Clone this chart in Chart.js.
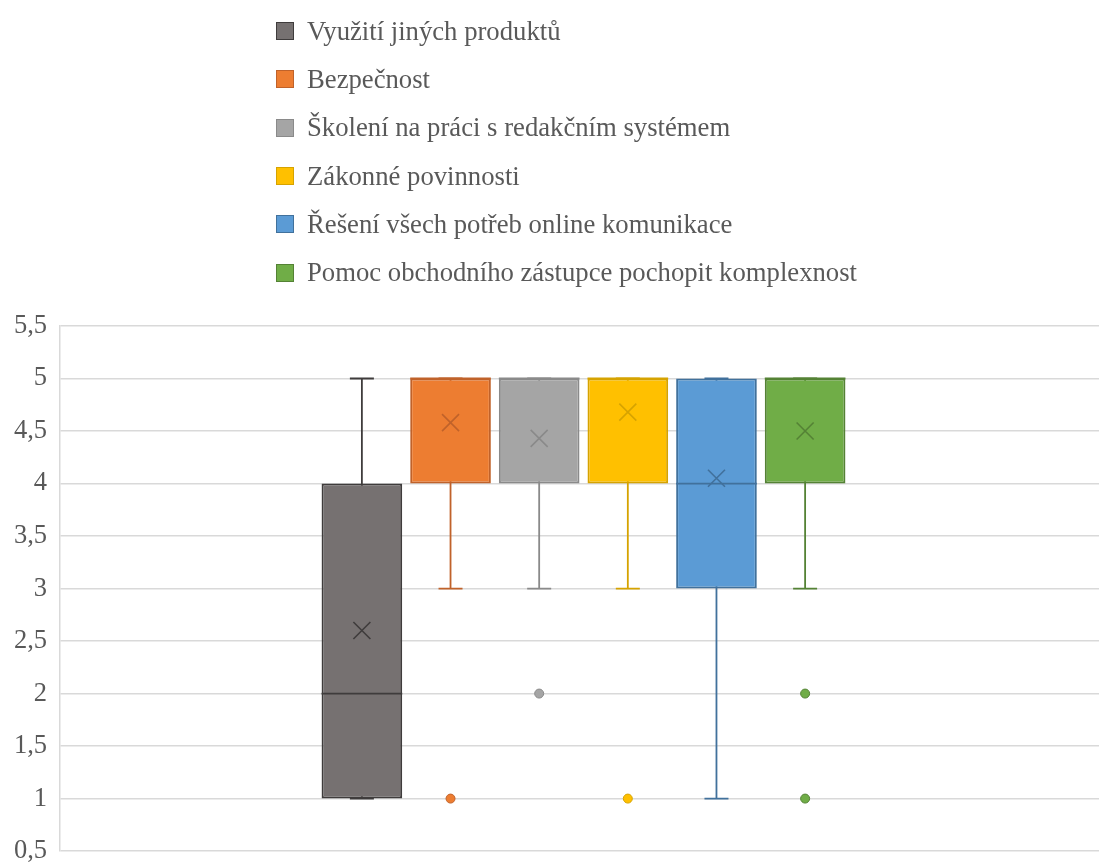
<!DOCTYPE html>
<html lang="cs">
<head>
<meta charset="utf-8">
<title>Box plot</title>
<script src="https://cdn.jsdelivr.net/npm/chart.js@4/dist/chart.umd.min.js"></script>
<style>
  html, body { margin: 0; padding: 0; background: #fff; overflow: hidden; width: 1099px; height: 862px; }
  #wrap { position: relative; width: 1107px; height: 880px; }
  #chart { position: absolute; left: 0; top: 0; }
  #legend { position: absolute; left: 276px; top: 7px; font-family: "Liberation Serif", "Times New Roman", serif; font-size: 26.7px; color: #595959; }
  .item { height: 48.3px; display: flex; align-items: center; white-space: nowrap; }
  .swatch { width: 16px; height: 16px; border: 1px solid; margin-right: 13px; box-sizing: content-box; }
</style>
</head>
<body>
<div id="wrap">
  <canvas id="chart" width="1107" height="880"></canvas>
  <div id="legend"></div>
</div>
<script>
// Series (one box per answer option)
const seriesNames = [
  'Využití jiných produktů',
  'Bezpečnost',
  'Školení na práci s redakčním systémem',
  'Zákonné povinnosti',
  'Řešení všech potřeb online komunikace',
  'Pomoc obchodního zástupce pochopit komplexnost'
];
const fillColors   = ['#767171', '#ED7D31', '#A5A5A5', '#FFC000', '#5B9BD5', '#70AD47'];
const strokeColors = ['#3f3c3c', '#c0622a', '#8a8a8a', '#d6a300', '#41719c', '#548235'];

// Five-number summaries, means and outliers
const q1Values      = [1, 4, 4, 4, 3, 4];
const q3Values      = [4, 5, 5, 5, 5, 5];
const medianValues  = [2, 5, 5, 5, 4, 5];
const whiskerLow    = [1, 3, 3, 3, 1, 3];
const whiskerHigh   = [5, 5, 5, 5, 5, 5];
const meanValues    = [2.6, 4.58, 4.43, 4.68, 4.05, 4.5];
const outlierValues = [[], [1], [2], [1], [], [2, 1]];

// Value axis
const yTickLabels = ['0,5', '1', '1,5', '2', '2,5', '3', '3,5', '4', '4,5', '5', '5,5'];
const categoryLabels = [''];

const datasets = seriesNames.map((name, i) => ({
  label: name,
  data: [[q1Values[i], q3Values[i]]],
  backgroundColor: fillColors[i],
  borderColor: strokeColors[i],
  borderWidth: 2,
  borderSkipped: false
}));

// Whiskers go under the boxes; medians, means and outliers on top
const boxWhisker = {
  id: 'boxWhisker',
  beforeDatasetsDraw(chart) {
    const y = chart.scales.y;
    const ctx = chart.ctx;
    ctx.save();
    ctx.lineWidth = 1.8;
    chart.data.datasets.forEach((ds, i) => {
      const el = chart.getDatasetMeta(i).data[0];
      const cap = 12;
      const yLo = y.getPixelForValue(whiskerLow[i]);
      const yHi = y.getPixelForValue(whiskerHigh[i]);
      ctx.strokeStyle = strokeColors[i];
      ctx.beginPath();
      ctx.moveTo(el.x, yLo); ctx.lineTo(el.x, yHi);
      ctx.moveTo(el.x - cap, yLo); ctx.lineTo(el.x + cap, yLo);
      ctx.moveTo(el.x - cap, yHi); ctx.lineTo(el.x + cap, yHi);
      ctx.stroke();
    });
    ctx.restore();
  },
  afterDatasetsDraw(chart) {
    const y = chart.scales.y;
    const ctx = chart.ctx;
    ctx.save();
    chart.data.datasets.forEach((ds, i) => {
      const el = chart.getDatasetMeta(i).data[0];
      const half = el.width / 2;
      // median
      const ym = y.getPixelForValue(medianValues[i]);
      ctx.strokeStyle = strokeColors[i];
      ctx.lineWidth = 1.8;
      ctx.beginPath();
      ctx.moveTo(el.x - half, ym); ctx.lineTo(el.x + half, ym);
      ctx.stroke();
      // mean marker
      const yMean = y.getPixelForValue(meanValues[i]);
      const s = 8.5;
      ctx.lineWidth = 1.6;
      ctx.beginPath();
      ctx.moveTo(el.x - s, yMean - s); ctx.lineTo(el.x + s, yMean + s);
      ctx.moveTo(el.x - s, yMean + s); ctx.lineTo(el.x + s, yMean - s);
      ctx.stroke();
      // outliers
      outlierValues[i].forEach(v => {
        const yo = y.getPixelForValue(v);
        ctx.beginPath();
        ctx.arc(el.x, yo, 4.5, 0, Math.PI * 2);
        ctx.fillStyle = fillColors[i];
        ctx.fill();
        ctx.lineWidth = 1;
        ctx.strokeStyle = strokeColors[i];
        ctx.stroke();
      });
    });
    ctx.restore();
  }
};

new Chart(document.getElementById('chart'), {
  type: 'bar',
  data: { labels: categoryLabels, datasets },
  plugins: [boxWhisker],
  options: {
    responsive: false,
    animation: false,
    events: [],
    categoryPercentage: 0.508,
    barPercentage: 0.91,
    layout: { padding: { top: 326, bottom: 23.8, left: 0, right: 0 } },
    plugins: { legend: { display: false }, tooltip: { enabled: false } },
    scales: {
      x: { display: false },
      y: {
        min: 0.5,
        max: 5.5,
        afterFit(axis) { axis.width = 60; },
        ticks: {
          stepSize: 0.5,
          padding: 13,
          color: '#595959',
          font: { family: '"Liberation Serif", "Times New Roman", serif', size: 26.5 },
          callback: (v, idx) => yTickLabels[idx]
        },
        grid: { color: '#d9d9d9', lineWidth: 1.5, drawTicks: false },
        border: { display: true, color: '#d9d9d9', width: 1.5 }
      }
    }
  }
});

// Legend list, one entry per line
const legend = document.getElementById('legend');
seriesNames.forEach((name, i) => {
  const row = document.createElement('div');
  row.className = 'item';
  const sw = document.createElement('span');
  sw.className = 'swatch';
  sw.style.background = fillColors[i];
  sw.style.borderColor = strokeColors[i];
  const tx = document.createElement('span');
  tx.textContent = name;
  row.appendChild(sw);
  row.appendChild(tx);
  legend.appendChild(row);
});
</script>
</body>
</html>
